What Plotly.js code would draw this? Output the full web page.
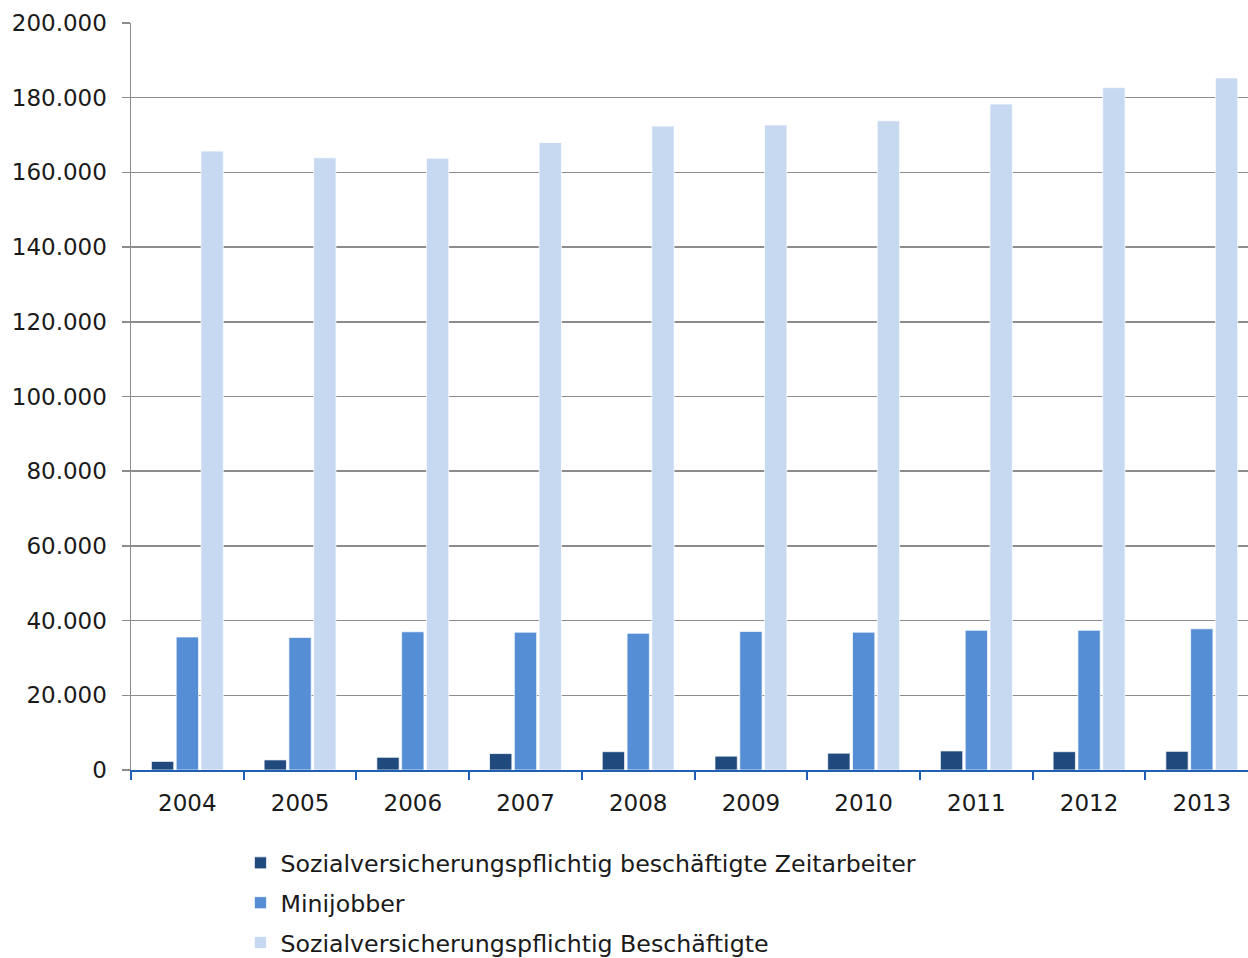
<!DOCTYPE html>
<html>
<head>
<meta charset="utf-8">
<script src="https://cdn.plot.ly/plotly-3.0.1.min.js"></script>
<style>
html,body{margin:0;padding:0;background:#fff;}
#chart{width:1248px;height:958px;}
</style>
</head>
<body>
<div id="chart"></div>
<script>
const years = ['2004','2005','2006','2007','2008','2009','2010','2011','2012','2013'];
const zeitarbeiter = [2300, 2700, 3400, 4400, 4900, 3700, 4500, 5100, 4900, 5000];
const minijobber = [35600, 35500, 37000, 36900, 36600, 37100, 36900, 37400, 37400, 37800];
const beschaeftigte = [165700, 163900, 163800, 168000, 172400, 172700, 173800, 178300, 182700, 185300];
const seriesNames = [
  'Sozialversicherungspflichtig beschäftigte Zeitarbeiter',
  'Minijobber',
  'Sozialversicherungspflichtig Beschäftigte'
];
const colors = ['#204a7e', '#558ed5', '#c6d9f1'];
const yTicks = [0, 20000, 40000, 60000, 80000, 100000, 120000, 140000, 160000, 180000, 200000];

const data = [zeitarbeiter, minijobber, beschaeftigte].map((vals, i) => ({
  type: 'bar',
  x: years,
  y: vals,
  name: seriesNames[i],
  legendgroup: 'g' + i,
  marker: {color: colors[i], line: {color: 'rgba(255,255,255,0.7)', width: 1}},
  hoverinfo: 'x+y+name'
}));

const font = "'DejaVu Sans', sans-serif";
const layout = {
  width: 1248,
  height: 958,
  margin: {l: 131, r: 0, t: 23, b: 188, autoexpand: false},
  paper_bgcolor: '#ffffff',
  plot_bgcolor: '#ffffff',
  separators: ',.',
  font: {family: font, size: 23, color: '#1a1a1a'},
  barmode: 'group',
  bargap: 0.34,
  bargroupgap: 0.1,
  showlegend: true,
  legend: {
    orientation: 'v',
    x: 0.098, xanchor: 'left',
    y: -0.095, yanchor: 'top',
    font: {family: font, size: 23.7, color: '#1a1a1a'},
    tracegroupgap: 6,
    bgcolor: 'rgba(0,0,0,0)'
  },
  xaxis: {
    type: 'category',
    range: [-0.5, 9.41],
    showgrid: false,
    showline: true,
    linecolor: '#1f5fb5',
    linewidth: 2,
    ticks: 'outside',
    tickson: 'boundaries',
    ticklen: 8,
    tickwidth: 2,
    tickcolor: '#1f5fb5',
    ticklabelstandoff: 11,
    tickfont: {family: font, size: 23, color: '#1a1a1a'},
    fixedrange: true
  },
  yaxis: {
    range: [0, 200000],
    tickvals: yTicks,
    tickformat: ',d',
    showgrid: true,
    gridcolor: '#8c8c8c',
    gridwidth: 1.5,
    zeroline: false,
    showline: true,
    linecolor: '#8c8c8c',
    linewidth: 1.5,
    ticks: 'outside',
    ticklen: 8,
    tickwidth: 1.5,
    tickcolor: '#8c8c8c',
    ticklabelstandoff: 10,
    tickfont: {family: font, size: 23, color: '#1a1a1a'},
    fixedrange: true
  }
};

Plotly.newPlot('chart', data, layout, {displayModeBar: false, staticPlot: true});
</script>
</body>
</html>
